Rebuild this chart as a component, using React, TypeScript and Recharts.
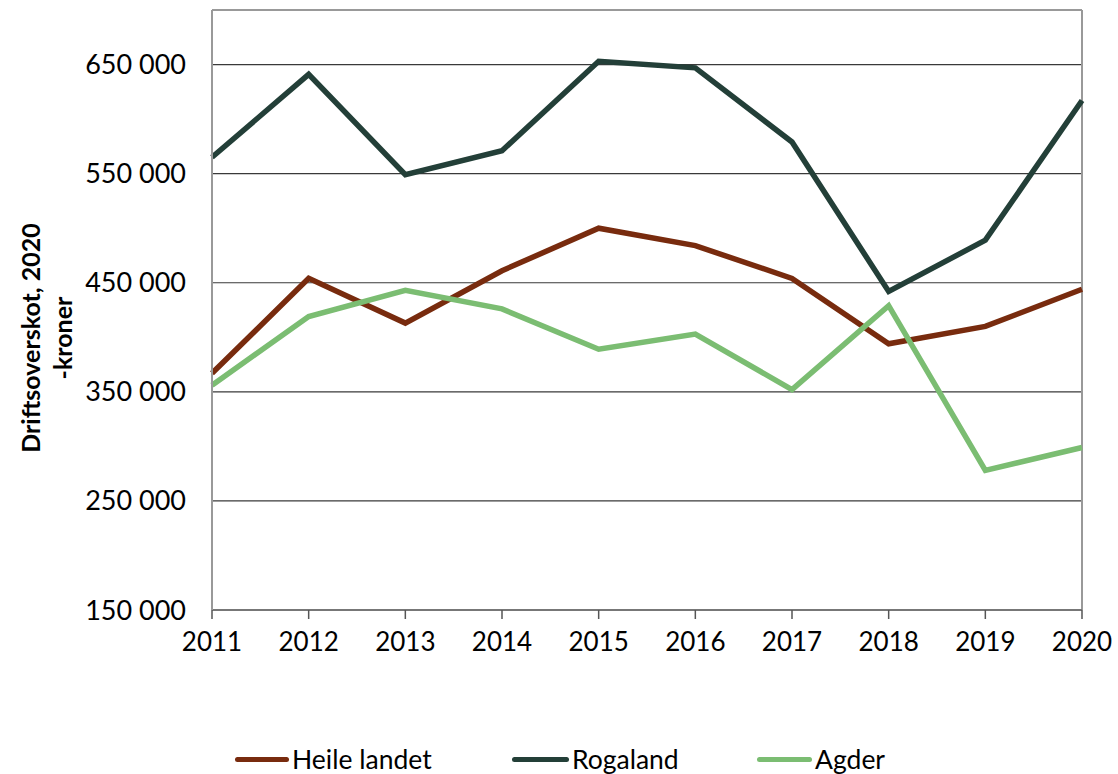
import { LineChart, Line, XAxis, YAxis, CartesianGrid, ReferenceLine } from 'recharts';

const years = ['2011', '2012', '2013', '2014', '2015', '2016', '2017', '2018', '2019', '2020'];
const heileLandet = [367000, 454000, 413000, 461000, 500000, 484000, 454000, 394000, 410000, 444000];
const rogaland = [565000, 641000, 549000, 571000, 653000, 647000, 579000, 442000, 489000, 617000];
const agder = [356000, 419000, 443000, 426000, 389000, 403000, 352000, 429000, 278000, 299000];
const yTicks = [150000, 250000, 350000, 450000, 550000, 650000];

const series = [
  { key: 'heile', name: 'Heile landet', color: '#782B0E' },
  { key: 'rogaland', name: 'Rogaland', color: '#233F38' },
  { key: 'agder', name: 'Agder', color: '#7BBD72' },
];

const chartData = years.map((year, i) => ({
  year,
  heile: heileLandet[i],
  rogaland: rogaland[i],
  agder: agder[i],
}));

const FONT = 'Lato, "Open Sans", sans-serif';

const formatNumber = (v: number) =>
  String(v).replace(/\B(?=(\d{3})+(?!\d))/g, ' ');

function AxisTitle() {
  return (
    <g fontFamily={FONT} fontWeight={700} fontSize={25} fill="#000">
      <text x={30} y={338} transform="rotate(-90 30 338)" textAnchor="middle" dominantBaseline="central">
        Driftsoverskot, 2020
      </text>
      <text x={62} y={338} transform="rotate(-90 62 338)" textAnchor="middle" dominantBaseline="central">
        -kroner
      </text>
    </g>
  );
}

const legendPos = [
  { line: 235, text: 292 },
  { line: 512, text: 572 },
  { line: 757, text: 815 },
];

export default function App() {
  return (
    <div style={{ position: 'absolute', left: 0, top: 0, width: 1118, height: 774, background: '#fff' }}>
      <LineChart
        width={1118}
        height={774}
        data={chartData}
        margin={{ top: 10, right: 36, bottom: 0, left: 0 }}
      >
        <CartesianGrid vertical={false} stroke="#3a3a3a" strokeWidth={1.2} />
        <ReferenceLine y={700000} stroke="#999" strokeWidth={2} />
        <ReferenceLine x="2020" stroke="#999" strokeWidth={2} />
        <XAxis
          dataKey="year"
          height={164}
          axisLine={{ stroke: '#777', strokeWidth: 2 }}
          tickLine={{ stroke: '#555', strokeWidth: 1.5 }}
          tickSize={9}
          tickMargin={14}
          tick={{ fill: '#000', fontSize: 26, fontFamily: FONT }}
          interval={0}
        />
        <YAxis
          width={212}
          domain={[150000, 700000]}
          ticks={yTicks}
          tickFormatter={formatNumber}
          axisLine={{ stroke: '#999', strokeWidth: 2 }}
          tickLine={false}
          tickSize={0}
          tickMargin={26}
          tick={{ fill: '#000', fontSize: 27, fontFamily: FONT }}
          allowDataOverflow
          label={<AxisTitle />}
        />
        {series.map((s) => (
          <Line
            key={s.key}
            type="linear"
            dataKey={s.key}
            name={s.name}
            stroke={s.color}
            strokeWidth={5.5}
            dot={false}
            isAnimationActive={false}
          />
        ))}
      </LineChart>
      {series.map((s, i) => (
        <div key={s.key}>
          <div
            style={{
              position: 'absolute',
              left: legendPos[i].line,
              top: 757,
              width: legendPos[i].text - legendPos[i].line - 3,
              height: 5,
              borderRadius: 3,
              background: s.color,
            }}
          />
          <div
            style={{
              position: 'absolute',
              left: legendPos[i].text,
              top: 744,
              fontFamily: FONT,
              fontSize: 26.5,
              lineHeight: '30px',
              color: '#000',
              whiteSpace: 'nowrap',
            }}
          >
            {s.name}
          </div>
        </div>
      ))}
    </div>
  );
}
